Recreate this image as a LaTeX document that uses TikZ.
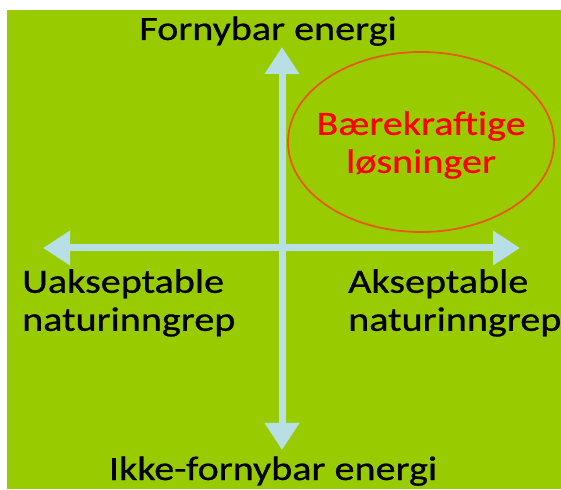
\documentclass[tikz,border=0pt]{standalone}
\usepackage{fontspec}
\setmainfont{Carlito}[FakeStretch=1.18, FakeBold=0.7]
\usetikzlibrary{arrows.meta}
\definecolor{gronnbg}{RGB}{153,204,0}
\definecolor{blaapil}{RGB}{184,222,230}
\definecolor{oransjering}{RGB}{232,90,10}

\begin{document}
\begin{tikzpicture}[x=1pt, y=1pt,
        akse/.style={line width=7pt, blaapil,
                     {Triangle[width=33pt, length=27pt]}-{Triangle[width=33pt, length=27pt]}},
        etikett/.style={font=\fontsize{34}{38}\selectfont, inner sep=0pt, align=left}
    ]
        \useasboundingbox (0,0) rectangle (561,489);
        \fill[gronnbg] (7,0) rectangle (561,479);
        % aksene
        \coordinate (N) at (282,442);
        \coordinate (S) at (282,39);
        \coordinate (V) at (43,241);
        \coordinate (O) at (520,241);
        \foreach \a/\b in {S/N, V/O}
            \draw[akse] (\a) -- (\b);
        % ringen
        \draw[draw=oransjering, line width=1.8pt] (421,347) ellipse [x radius=133, y radius=90];
        \node[etikett, align=center, text=red] (losning) at (421,344) {B\ae rekraftige\\l\o sninger};
        % tekstene
        \node[etikett, anchor=base] (fornybar) at (268,449) {Fornybar energi};
        \node[etikett, anchor=base] (ikkefornybar) at (273,9) {Ikke-fornybar energi};
        \node[etikett, anchor=north west] (uakseptabel) at (22,220) {Uakseptable\\naturinngrep};
        \node[etikett, anchor=north west] (akseptabel) at (348,220) {Akseptable\\naturinngrep};
\end{tikzpicture}
\end{document}
